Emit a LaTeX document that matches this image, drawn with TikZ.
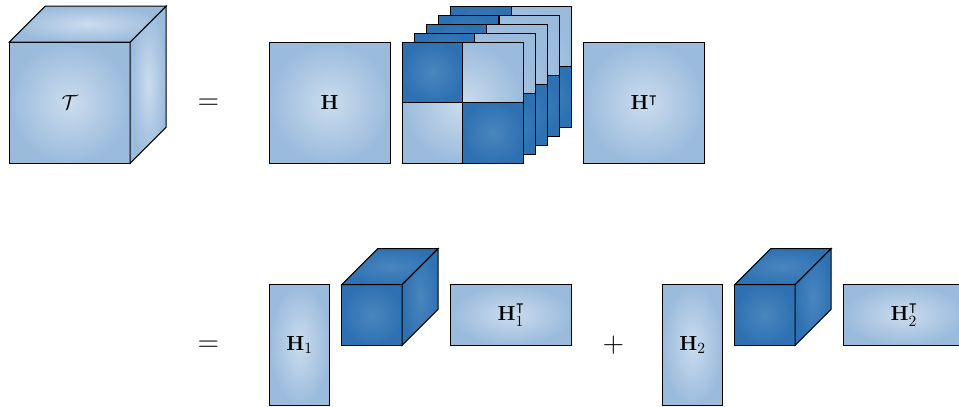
\documentclass[tikz,border=0pt]{standalone}
\usepackage{amsmath,amssymb}
\definecolor{lightout}{RGB}{155,187,220}
\definecolor{lightin}{RGB}{203,220,238}
\definecolor{darkout}{RGB}{46,113,178}
\definecolor{darkin}{RGB}{74,134,190}
\tikzset{
  x=0.024793cm,y=-0.024793cm,
  edge/.style={draw=black,line width=0.72pt,line join=miter},
  lightface/.style={edge,shading=radial,inner color=lightin,outer color=lightout},
  darkface/.style={edge,shading=radial,inner color=darkin,outer color=darkout},
  blockbox/.style={rectangle,inner sep=0pt,outer sep=0pt,minimum width=#1,font=\fontsize{15.5}{19}\selectfont},
  full/.style={blockbox=3cm,minimum height=3cm},
  half/.style={blockbox=1.5cm,minimum height=1.5cm},
  tall/.style={blockbox=1.5cm,minimum height=3cm},
  wide/.style={blockbox=3cm,minimum height=1.5cm},
  sym/.style={inner sep=0pt,font=\fontsize{20}{24}\selectfont}
}
\newcommand{\cubesides}[3]{% node, style, depth is fixed
  \path[#2] (#1.north west) -- ++(36,-36) -- ++(#3,0) -- (#1.north east) -- cycle;
  \path[#2] (#1.north east) -- ++(36,-36) -- ++(0,#3) -- (#1.south east) -- cycle;
}
\begin{document}
\begin{tikzpicture}
\useasboundingbox (0,0) rectangle (959,407);
\begin{scope}
\clip (0,0) rectangle (959,407);
% tensor T
\node[full,lightface] (T) at (69.7,102.7) {$\mathcal{T}$};
\cubesides{T}{lightface}{121}
\node[sym] (eq1) at (208.5,104.5) {$=$};
\node[full,lightface] (H) at (329.7,102.7) {$\mathbf{H}$};
% stacked core layers, back to front
\foreach \i/\dx/\dy in {4/48.4/-36,3/36.3/-27,2/24.2/-18,1/12.1/-9,0/0/0}{
  \node[full,lightface] (L\i) at ({462.7+\dx},{102.7+\dy}) {};
  \node[half,darkface,anchor=north west] (Da\i) at (L\i.north west) {};
  \node[half,darkface,anchor=south east] (Db\i) at (L\i.south east) {};
}
\node[full,lightface] (Ht) at (644.2,102.7) {\raisebox{-0.7pt}{$\mathbf{H}^{\intercal}$}};
% second row, first term
\node[sym] (eq2) at (208.5,346.5) {$=$};
\node[tall,lightface] (H1) at (299.7,345.2) {\raisebox{-1.7pt}{$\mathbf{H}_1$}};
\node[half,darkface] (C1) at (371.95,314.95) {};
\cubesides{C1}{darkface}{60.5}
\node[wide,lightface] (H1t) at (511.2,314.95) {\raisebox{-3pt}{$\mathbf{H}_1^{\intercal}$}};
\node[sym] (plus) at (613.5,345) {$+$};
% second term
\node[tall,lightface] (H2) at (692.7,345.2) {\raisebox{-1.7pt}{$\mathbf{H}_2$}};
\node[half,darkface] (C2) at (764.95,314.95) {};
\cubesides{C2}{darkface}{60.5}
\node[wide,lightface] (H2t) at (904.2,314.95) {\raisebox{-3pt}{$\mathbf{H}_2^{\intercal}$}};
\end{scope}
\end{tikzpicture}
\end{document}
